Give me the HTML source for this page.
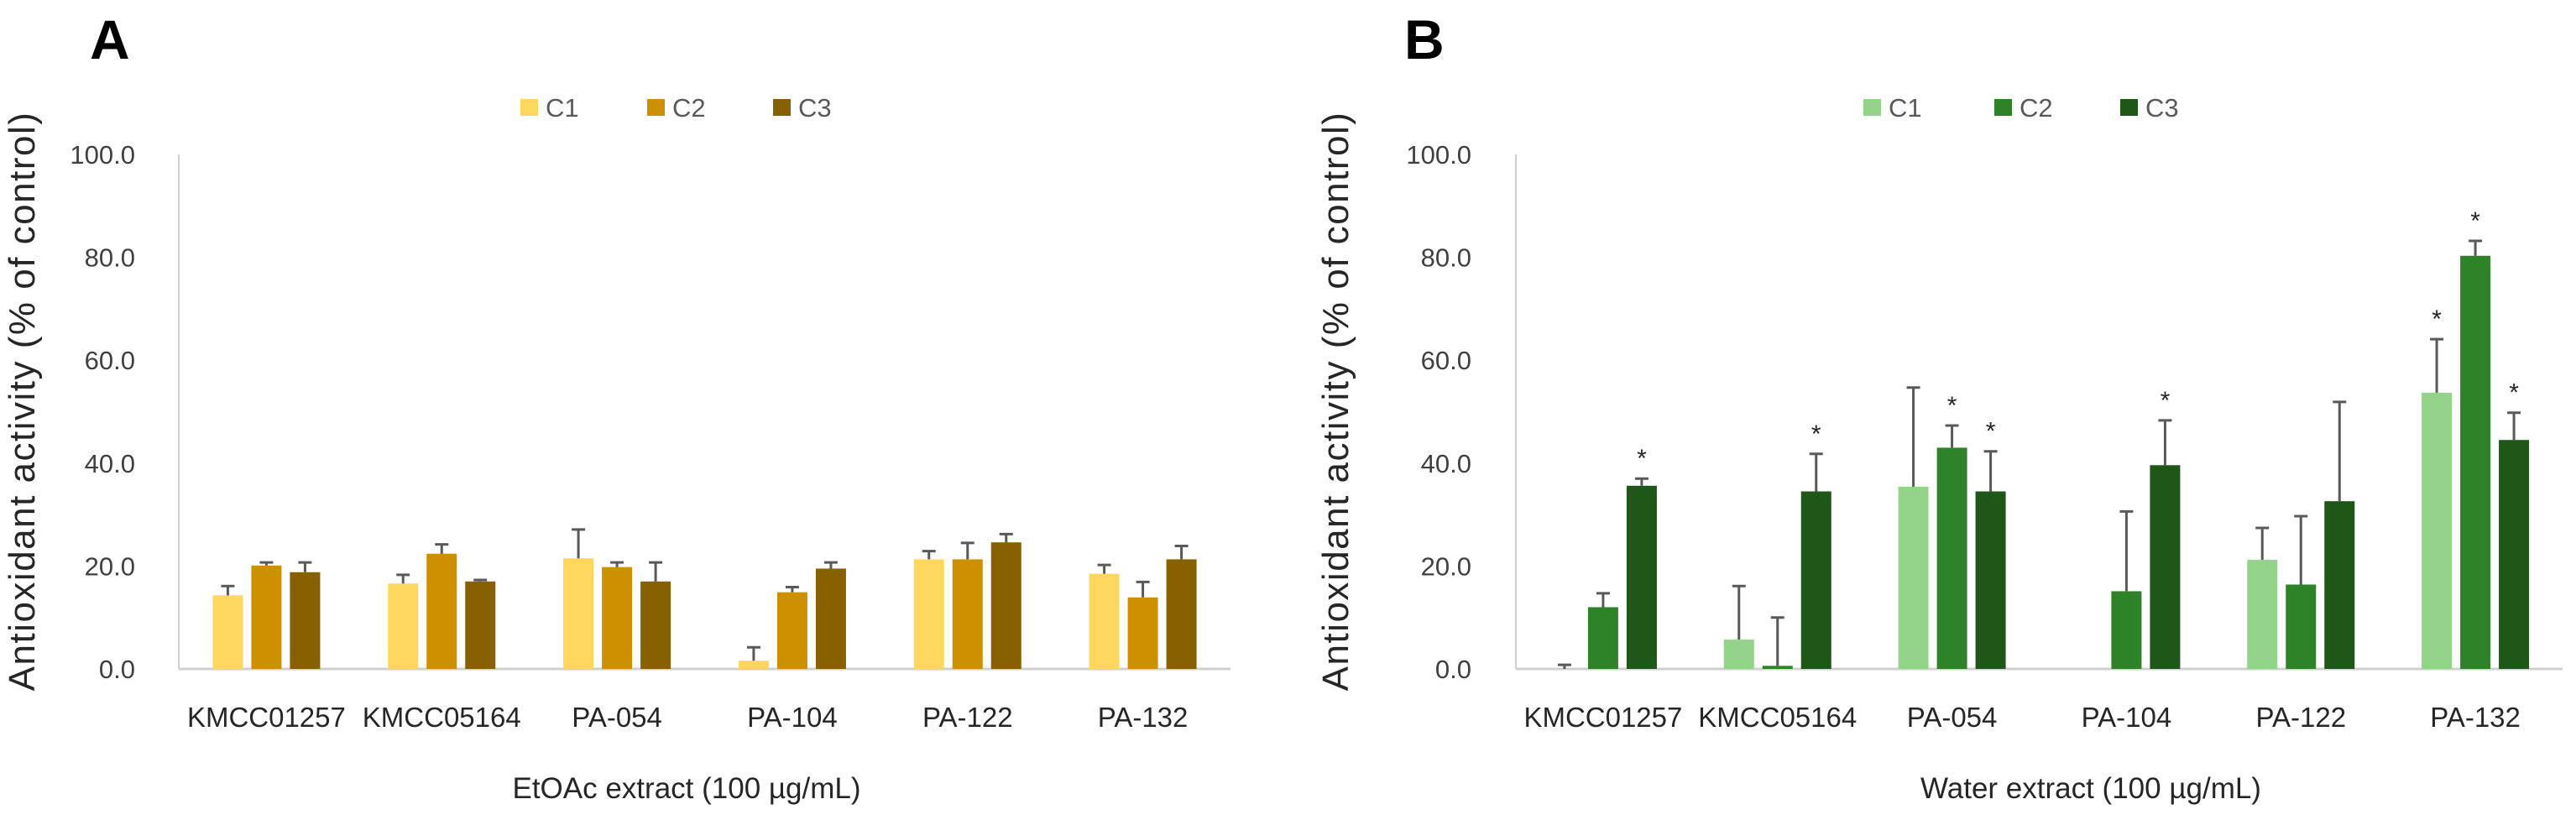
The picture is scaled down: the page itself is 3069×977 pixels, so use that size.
<!DOCTYPE html>
<html><head><meta charset="utf-8"><style>
body{margin:0;background:#fff}
svg text{font-family:"Liberation Sans Narrow","Liberation Sans",sans-serif}
</style></head><body>
<svg id="chart" width="3069" height="972" viewBox="0 0 3069 972" xmlns="http://www.w3.org/2000/svg">
<rect width="3069" height="972" fill="#fff"/>
<g id="panelA"></g>
<g id="panelB"></g>
</svg>
<script>
const categories = ["KMCC01257","KMCC05164","PA-054","PA-104","PA-122","PA-132"];
const seriesNames = ["C1","C2","C3"];
const yTicks = [0,20,40,60,80,100];
const yTickLabels = ["0.0","20.0","40.0","60.0","80.0","100.0"];
// Panel A (EtOAc)
const aC1 = [14.3,16.6,21.5,1.6,21.3,18.5];
const aC2 = [20.1,22.4,19.8,14.9,21.3,13.9];
const aC3 = [18.8,17.0,17.0,19.5,24.6,21.3];
const aC1err = [1.8,1.7,5.6,2.6,1.6,1.7];
const aC2err = [0.6,1.8,0.9,1.0,3.2,3.0];
const aC3err = [1.9,0.3,3.7,1.2,1.6,2.6];
// Panel B (Water)
const bC1 = [0.0,5.7,35.4,0.0,21.2,53.7];
const bC2 = [12.0,0.6,43.0,15.1,16.4,80.3];
const bC3 = [35.6,34.5,34.5,39.6,32.6,44.5];
const bC1err = [0.8,10.4,19.3,0,6.2,10.4];
const bC2err = [2.7,9.4,4.3,15.5,13.3,2.9];
const bC3err = [1.4,7.3,7.8,8.7,19.3,5.3];
const bC1star = [0,0,0,0,0,1];
const bC2star = [0,0,1,0,0,1];
const bC3star = [1,1,1,1,0,1];

const NS="http://www.w3.org/2000/svg";
function mk(tag,attrs,parent){const e=document.createElementNS(NS,tag);for(const k in attrs)e.setAttribute(k,attrs[k]);parent.appendChild(e);return e;}

function drawPanel(g,cfg){
  const y0=797,y100=184;
  const yScale=v=>y0-(v/100)*(y0-y100);
  const bandW=(cfg.x1-cfg.x0)/categories.length;
  const xBand=i=>cfg.x0+bandW*(i+0.5);
  let t=mk('text',{x:cfg.letterX,y:70,'font-size':66,'font-weight':'bold',fill:'#000','font-family':'Liberation Sans, sans-serif'},g);
  t.textContent=cfg.letter;
  
  
  let ax=mk('line',{x1:cfg.x0,y1:y100,x2:cfg.x0,y2:y0,stroke:'#d0d0d0','stroke-width':2},g);
  
  
  let bx=mk('line',{x1:cfg.x0,y1:y0,x2:cfg.x1,y2:y0,stroke:'#d0d0d0','stroke-width':3},g);
  
  
  yTicks.forEach((v,i)=>{
    let tl=mk('text',{x:cfg.tickX,y:yScale(v)+11,'font-size':31,fill:'#404040','text-anchor':'end'},g);
    tl.textContent=yTickLabels[i];
    
    
  });
  let yt=mk('text',{x:0,y:0,'font-size':44,fill:'#262626','text-anchor':'middle','font-family':'Liberation Sans, sans-serif','letter-spacing':1.5,transform:`translate(${cfg.yTitleX+15},478) rotate(-90)`},g);
  yt.textContent="Antioxidant activity (% of control)";
  
  
  let xt=mk('text',{x:cfg.xTitleX,y:951,'font-size':35,fill:'#262626','text-anchor':'middle'},g);
  xt.textContent=cfg.xTitle;
  
  
  seriesNames.forEach((s,k)=>{
    let r=mk('rect',{x:cfg.legX[k],y:118,width:21,height:20,fill:cfg.colors[k]},g);
    
    
    let lt=mk('text',{x:cfg.legX[k]+30,y:139,'font-size':31,fill:'#595959'},g);
    lt.textContent=s;
    
    
  });
  const bw=36,off=[-46,0,46];
  categories.forEach((c,i)=>{
    let cl=mk('text',{x:xBand(i),y:866,'font-size':33,fill:'#262626','text-anchor':'middle'},g);
    cl.textContent=c;
    
    
    for(let k=0;k<3;k++){
      const v=cfg.vals[k][i],e=cfg.errs[k][i];
      const cx=xBand(i)+off[k];
      const yt2=yScale(v);
      if(v>0){
        let b=mk('rect',{x:cx-bw/2,y:yt2,width:bw,height:y0-yt2,fill:cfg.colors[k]},g);
        
        
      }
      if(e>0){
        const ye=yScale(v+e);
        let el=mk('path',{d:`M${cx},${yt2} V${ye} M${cx-8},${ye} H${cx+8}`,stroke:'#595959','stroke-width':3,fill:'none'},g);
        
        
        if(cfg.stars && cfg.stars[k][i]){
          let st=mk('text',{x:cx,y:ye-14,'font-size':30,fill:'#262626','text-anchor':'middle'},g);
          st.textContent="*";
          
          
        }
      }
    }
  });
}
drawPanel(document.getElementById('panelA'),{
  letter:'A',letterX:107,x0:213,x1:1466,tickX:161,yTitleX:26,xTitleX:818,
  xTitle:'EtOAc extract (100 µg/mL)',legX:[620,771,921],
  colors:['#ffd75e','#cc9000','#876000'],
  vals:[aC1,aC2,aC3],errs:[aC1err,aC2err,aC3err]
});
drawPanel(document.getElementById('panelB'),{
  letter:'B',letterX:1673,x0:1806,x1:3053,tickX:1753,yTitleX:1591,xTitleX:2491,
  xTitle:'Water extract (100 µg/mL)',legX:[2220,2376,2526],
  colors:['#93d38a','#2e8328','#1f5718'],
  vals:[bC1,bC2,bC3],errs:[bC1err,bC2err,bC3err],stars:[bC1star,bC2star,bC3star]
});
</script>
</body></html>
